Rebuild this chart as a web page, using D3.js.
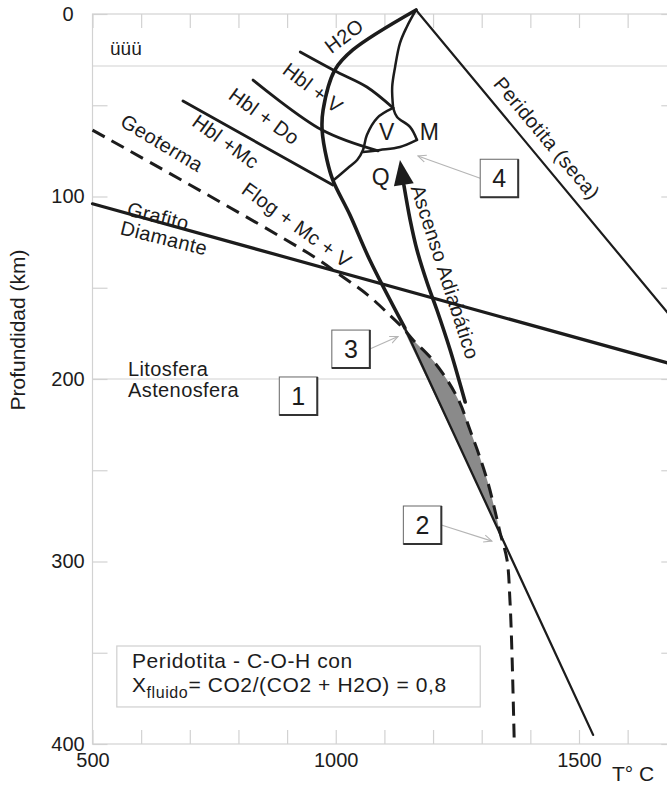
<!DOCTYPE html>
<html>
<head>
<meta charset="utf-8">
<script src="https://cdn.jsdelivr.net/npm/d3@7"></script>
<style>
  body { margin: 0; background: #fff; }
  svg { display: block; font-family: "Liberation Sans", Arial, sans-serif; }
</style>
</head>
<body>
<svg id="chart" width="667" height="785"></svg>
<script>
// axis values
var tempTicks = [500, 600, 700, 800, 900, 1000, 1100, 1200, 1300, 1400, 1500, 1600, 1700];
var tempLabels = [500, 1000, 1500];
var depthTicks = [0, 50, 100, 150, 200, 250, 300, 350, 400];
var depthLabels = [0, 100, 200, 300, 400];
var refDepths = [28.5, 200];   // grey reference lines

// curves, [T (C), depth (km)]
var solidusH2O = [[1165, -2.2], [1035, 19.7], [998, 30.7], [974, 52.6], [972, 63.6], [982, 80], [994, 91], [1029, 110], [1070, 134.8], [1142, 172]];
var solidusCOH = [[1142, 172], [1529, 395]];
var peridotitaSeca = [[1165, -2.2], [1700, 169.4]];
var grafitoDiamante = [[500, 104], [1700, 192.5]];
var geoterma = [[500, 63.6], [943, 131], [1009, 143], [1066, 154], [1111, 165], [1138, 172], [1159, 178.6], [1194, 188], [1229, 200.5], [1255, 213], [1276, 228], [1296, 242.7], [1313, 257], [1327, 271.8], [1338, 284.4], [1352, 299], [1358, 321], [1362, 348.5], [1367, 400]];
var hblV = [[927, 20.8], [1003, 31.8], [1064, 40], [1118, 51.5]];
var hblDo = [[830, 36.2], [972, 63.6], [1087, 75]];
var hblMc = [[686, 47.7], [994, 93.7]];
var apexInner = [[1165, -2.2], [1146, 7.1], [1132, 15.9], [1122, 29], [1116, 40], [1118, 51.5]];
var vLeft = [[1118, 51.5], [1085, 57], [1064, 66.3], [1056, 74.5], [1044, 80], [1025, 84.4], [996, 91]];
var vRight = [[1118, 51.5], [1126, 56.4], [1153, 62], [1167, 69]];
var vBottom = [[1167, 69], [1132, 72.9], [1091, 74.5], [1056, 75.6]];
var ascenso = [[1266, 212.6], [1255, 202.2], [1235, 184], [1208, 162.2], [1188, 147.4], [1167, 129.3], [1153, 112.9], [1140, 93.7]];
var ascensoTip = [1132, 80];
var lensRange = [172, 284.4];

// labels: text, T, depth, rotation
var labels = [
  ['H2O', 1017, 12, -37],
  ['Hbl + V', 953, 40.5, 37],
  ['Hbl + Do', 853, 56, 36],
  ['Hbl +Mc', 774, 70, 36],
  ['Geoterma', 643, 70.7, 31],
  ['Flog + Mc + V', 920, 115.6, 36],
  ['Grafito', 635, 110.7, 14],
  ['Diamante', 647, 122.7, 14],
  ['Peridotita (seca)', 1434, 68, 50],
  ['Ascenso Adiabático', 1225, 141.4, 72]
];
var points = [['V', 1105, 64.7], ['M', 1193, 64.7], ['Q', 1093, 89.3]];
var layers = [['Litosfera', 573, 198.4], ['Astenosfera', 573, 210]];
// numbered boxes: label, centre, arrow target
var boxes = [
  ['1', 923, 209.3, null],
  ['2', 1178, 280, [1321, 288.8]],
  ['3', 1031, 183.6, [1128, 176.7]],
  ['4', 1336, 90, [1169, 77.8]]
];
var noteBox = [[550, 346.3], [1297, 379.7]];

var svg = d3.select('#chart');
var x = d3.scaleLinear().domain([500, 1700]).range([92.5, 676.3]);
var y = d3.scaleLinear().domain([0, 400]).range([14, 744]);
var ink = '#1c1c1c';
var light = '#d2d2d2';

var straight = d3.line().x(d => x(d[0])).y(d => y(d[1]));
var smooth = d3.line().x(d => x(d[0])).y(d => y(d[1])).curve(d3.curveCatmullRom.alpha(0.5));

svg.append('defs').append('marker')
  .attr('id', 'thin-head')
  .attr('viewBox', '0 0 10 10')
  .attr('refX', 9).attr('refY', 5)
  .attr('markerWidth', 9).attr('markerHeight', 9)
  .attr('markerUnits', 'userSpaceOnUse')
  .attr('orient', 'auto')
  .append('path')
  .attr('d', 'M0,1 L9,5 L0,9')
  .attr('fill', 'none').attr('stroke', '#b5b5b5').attr('stroke-width', 1.2);

// frame + grey lines
var grid = svg.append('g').attr('fill', 'none').attr('stroke', light).attr('stroke-width', 1.2);
grid.append('rect')
  .attr('x', x(500)).attr('y', y(0))
  .attr('width', x(1700) - x(500)).attr('height', y(400) - y(0));
grid.selectAll('line.ref').data(refDepths).join('line')
  .attr('class', 'ref')
  .attr('x1', x(500)).attr('x2', x(1700))
  .attr('y1', d => y(d)).attr('y2', d => y(d));

// inner ticks
function tickStyle(g) {
  g.select('.domain').remove();
  g.selectAll('.tick line').attr('stroke', light).attr('stroke-width', 1.2);
}
svg.append('g').attr('transform', `translate(0,${y(400)})`)
  .call(d3.axisBottom(x).tickValues(tempTicks).tickSizeInner(-14).tickSizeOuter(0).tickFormat(''))
  .call(tickStyle);
svg.append('g').attr('transform', `translate(0,${y(0)})`)
  .call(d3.axisTop(x).tickValues(tempTicks).tickSizeInner(-14).tickSizeOuter(0).tickFormat(''))
  .call(tickStyle);
svg.append('g').attr('transform', `translate(${x(500)},0)`)
  .call(d3.axisLeft(y).tickValues(depthTicks).tickSizeInner(-15).tickSizeOuter(0).tickFormat(''))
  .call(tickStyle);
svg.append('g').attr('transform', `translate(${x(1700)},0)`)
  .call(d3.axisRight(y).tickValues(depthTicks).tickSizeInner(-15).tickSizeOuter(0).tickFormat(''))
  .call(tickStyle);

// tick labels
var xl = svg.append('g').attr('transform', `translate(0,${y(400)})`)
  .call(d3.axisBottom(x).tickValues(tempLabels).tickSize(0).tickPadding(9).tickFormat(d3.format('d')));
xl.select('.domain').remove();
xl.selectAll('text').attr('font-size', 20).attr('font-family', null).attr('fill', ink);

var yl = svg.append('g').attr('transform', `translate(${x(500)},0)`)
  .call(d3.axisLeft(y).tickValues(depthLabels).tickSize(0).tickFormat(d3.format('d')));
yl.select('.domain').remove();
yl.selectAll('text').attr('font-size', 20).attr('font-family', null).attr('fill', ink)
  .attr('text-anchor', 'middle').attr('x', -24.5);

svg.append('text').attr('x', 612).attr('y', 781)
  .attr('font-size', 21).attr('fill', ink).text('T\u00b0 C');
svg.append('text')
  .attr('transform', 'translate(25,330) rotate(-90)')
  .attr('text-anchor', 'middle').attr('font-size', 21).attr('fill', ink)
  .text('Profundidad (km)');
svg.append('text').attr('x', 110).attr('y', 55)
  .attr('font-size', 19).attr('fill', ink).text('üüü');

// grey lens between geotherm and solidus
var lens = geoterma.filter(d => d[1] >= lensRange[0] && d[1] <= lensRange[1]);
svg.append('path')
  .attr('d', smooth(lens) + 'Z')
  .attr('fill', '#8a8a8a').attr('stroke', 'none');

var curves = svg.append('g').attr('fill', 'none').attr('stroke', ink)
  .attr('stroke-linejoin', 'round').attr('stroke-linecap', 'round');

curves.append('path').attr('d', straight(peridotitaSeca)).attr('stroke-width', 2.2);
curves.append('path').attr('d', straight(grafitoDiamante)).attr('stroke-width', 3.2);
curves.append('path').attr('d', smooth(geoterma)).attr('stroke-width', 3)
  .attr('stroke-dasharray', '14,8').attr('stroke-linecap', 'butt');
curves.append('path').attr('d', straight(solidusCOH)).attr('stroke-width', 2.3);
curves.append('path').attr('d', smooth(solidusH2O)).attr('stroke-width', 3.6);
[hblV, hblDo, hblMc].forEach(function (c) {
  curves.append('path').attr('d', smooth(c)).attr('stroke-width', 2.8);
});
[apexInner, vLeft, vRight, vBottom].forEach(function (c) {
  curves.append('path').attr('d', smooth(c)).attr('stroke-width', 2.5);
});

// ascenso adiabatico arrow
curves.append('path').attr('d', smooth(ascenso)).attr('stroke-width', 3.6);
var base = ascenso[ascenso.length - 1];
var tx = x(ascensoTip[0]), ty = y(ascensoTip[1]);
var bx = x(base[0]), by = y(base[1]);
var len = Math.hypot(tx - bx, ty - by);
var ux = (tx - bx) / len, uy = (ty - by) / len;
var hx = tx - ux * 25, hy = ty - uy * 25;
svg.append('path')
  .attr('d', `M${tx},${ty}L${hx - uy * 10},${hy + ux * 10}L${hx + uy * 10},${hy - ux * 10}Z`)
  .attr('fill', ink);

// rotated curve labels
var lab = svg.append('g').attr('fill', ink).attr('font-size', 20).attr('letter-spacing', 0.4);
lab.selectAll('text.curve').data(labels).join('text')
  .attr('class', 'curve')
  .attr('text-anchor', 'middle').attr('dy', '0.35em')
  .attr('transform', d => `translate(${x(d[1])},${y(d[2])}) rotate(${d[3]})`)
  .text(d => d[0]);
lab.selectAll('text.pt').data(points).join('text')
  .attr('class', 'pt')
  .attr('text-anchor', 'middle').attr('dy', '0.35em').attr('font-size', 23)
  .attr('x', d => x(d[1])).attr('y', d => y(d[2]))
  .text(d => d[0]);
lab.selectAll('text.layer').data(layers).join('text')
  .attr('class', 'layer')
  .attr('x', d => x(d[1])).attr('y', d => y(d[2]))
  .text(d => d[0]);

// numbered boxes
var bs = 38;
var bg = svg.selectAll('g.box').data(boxes).join('g').attr('class', 'box');
bg.filter(d => d[3]).append('line')
  .attr('x1', d => x(d[1]) + (x(d[3][0]) > x(d[1]) ? bs / 2 : -bs / 2))
  .attr('y1', d => y(d[2]))
  .attr('x2', d => x(d[3][0])).attr('y2', d => y(d[3][1]))
  .attr('stroke', '#b5b5b5').attr('stroke-width', 1.2)
  .attr('marker-end', 'url(#thin-head)');
bg.append('rect')
  .attr('x', d => x(d[1]) - bs / 2).attr('y', d => y(d[2]) - bs / 2)
  .attr('width', bs).attr('height', bs)
  .attr('fill', '#fff').attr('stroke', '#666').attr('stroke-width', 1);
bg.append('path')
  .attr('d', d => {
    var cx = x(d[1]), cy = y(d[2]);
    return `M${cx + bs / 2},${cy - bs / 2}L${cx + bs / 2},${cy + bs / 2}L${cx - bs / 2},${cy + bs / 2}`;
  })
  .attr('fill', 'none').attr('stroke', '#333').attr('stroke-width', 2);
bg.append('text')
  .attr('x', d => x(d[1])).attr('y', d => y(d[2]))
  .attr('dy', '0.36em').attr('text-anchor', 'middle')
  .attr('font-size', 25).attr('fill', ink)
  .text(d => d[0]);

// note box
svg.append('rect')
  .attr('x', x(noteBox[0][0])).attr('y', y(noteBox[0][1]))
  .attr('width', x(noteBox[1][0]) - x(noteBox[0][0]))
  .attr('height', y(noteBox[1][1]) - y(noteBox[0][1]))
  .attr('fill', '#fff').attr('stroke', '#cfcfcf').attr('stroke-width', 1.2);
var note = svg.append('g').attr('fill', ink).attr('font-size', 21).attr('letter-spacing', 0.6);
note.append('text').attr('x', x(581)).attr('y', y(358.4)).text('Peridotita - C-O-H con');
var t2 = note.append('text').attr('x', x(581)).attr('y', y(371.5));
t2.append('tspan').text('X');
t2.append('tspan').attr('font-size', 16).attr('dy', 6).text('fluido');
t2.append('tspan').attr('dy', -6).text('= CO2/(CO2 + H2O) = 0,8');
</script>
</body>
</html>
